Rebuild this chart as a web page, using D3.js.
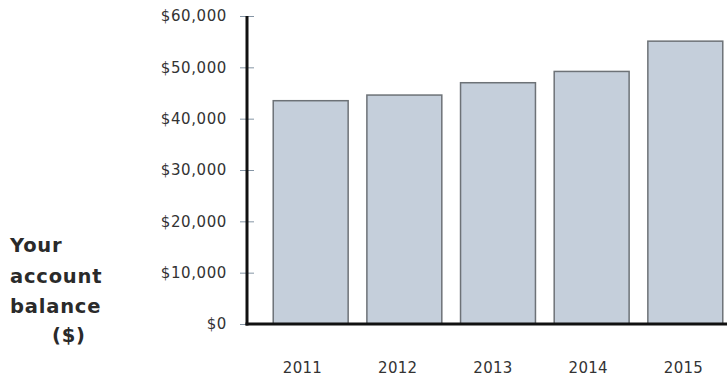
<!DOCTYPE html>
<html>
<head>
<meta charset="utf-8">
<script src="https://cdn.jsdelivr.net/npm/d3@7/dist/d3.min.js"></script>
<style>
  html, body { margin: 0; padding: 0; background: #fff; }
  svg { display: block; }
</style>
</head>
<body>
<svg id="chart" width="727" height="376"></svg>
<script>
const years = ["2011", "2012", "2013", "2014", "2015"];
const balances = [43500, 44600, 47000, 49200, 55100];
const yTicks = [0, 10000, 20000, 30000, 40000, 50000, 60000];
const titleLines = ["Your", "account", "balance", "($)"];

const svg = d3.select("#chart");
const axisX = 247, baseY = 324, topY = 16;

const y = d3.scaleLinear().domain([0, 60000]).range([baseY, topY]);
const x = d3.scaleBand().domain(years).range([axisX, 749])
  .paddingInner(0.2).paddingOuter(0.28);
// label positions (slightly offset from bar centres in the original)
const xl = d3.scalePoint().domain(years).range([302, 683]);

// bars
svg.append("g").selectAll("rect").data(years).join("rect")
  .attr("x", d => x(d))
  .attr("y", (d, i) => y(balances[i]))
  .attr("width", x.bandwidth())
  .attr("height", (d, i) => baseY - y(balances[i]))
  .attr("fill", "#c5cfdb")
  .attr("stroke", "#6d7277")
  .attr("stroke-width", 1.5);

// y axis ticks & labels
const yAxis = d3.axisLeft(y).tickValues(yTicks)
  .tickFormat(d => "$" + d3.format(",")(d))
  .tickSize(0).tickPadding(20);
const gy = svg.append("g").attr("transform", `translate(${axisX},0)`).call(yAxis);
gy.select(".domain").remove();
gy.selectAll(".tick text")
  .attr("font-family", "DejaVu Sans, Verdana, sans-serif")
  .attr("font-size", 15).attr("letter-spacing", 0.6).attr("fill", "#333");
gy.selectAll(".tick").append("line")
  .attr("x1", -7).attr("x2", 7)
  .attr("stroke", "#8595a5").attr("stroke-width", 1);

// axis lines
svg.append("line").attr("x1", axisX).attr("x2", axisX)
  .attr("y1", topY).attr("y2", baseY + 1.5)
  .attr("stroke", "#111").attr("stroke-width", 3);
svg.append("line").attr("x1", axisX - 1.5).attr("x2", 727)
  .attr("y1", baseY).attr("y2", baseY)
  .attr("stroke", "#111").attr("stroke-width", 3);

// x labels
const xAxis = d3.axisBottom(xl).tickSize(0).tickPadding(0);
const gx = svg.append("g").attr("transform", `translate(0,${baseY})`).call(xAxis);
gx.select(".domain").remove();
gx.selectAll(".tick text")
  .attr("y", 49).attr("dy", 0)
  .attr("font-family", "DejaVu Sans, Verdana, sans-serif")
  .attr("font-size", 15).attr("letter-spacing", 0.3).attr("fill", "#333");

// y title
const tx = [10, 10, 10, 52];
const ty = [252, 283, 313, 342];
svg.append("g").selectAll("text").data(titleLines).join("text")
  .attr("x", (d, i) => tx[i]).attr("y", (d, i) => ty[i])
  .attr("font-family", "DejaVu Sans, Verdana, sans-serif")
  .attr("font-weight", "bold").attr("font-size", 19.5)
  .attr("letter-spacing", 0.8)
  .attr("fill", "#2a2a2a")
  .text(d => d);
</script>
</body>
</html>
